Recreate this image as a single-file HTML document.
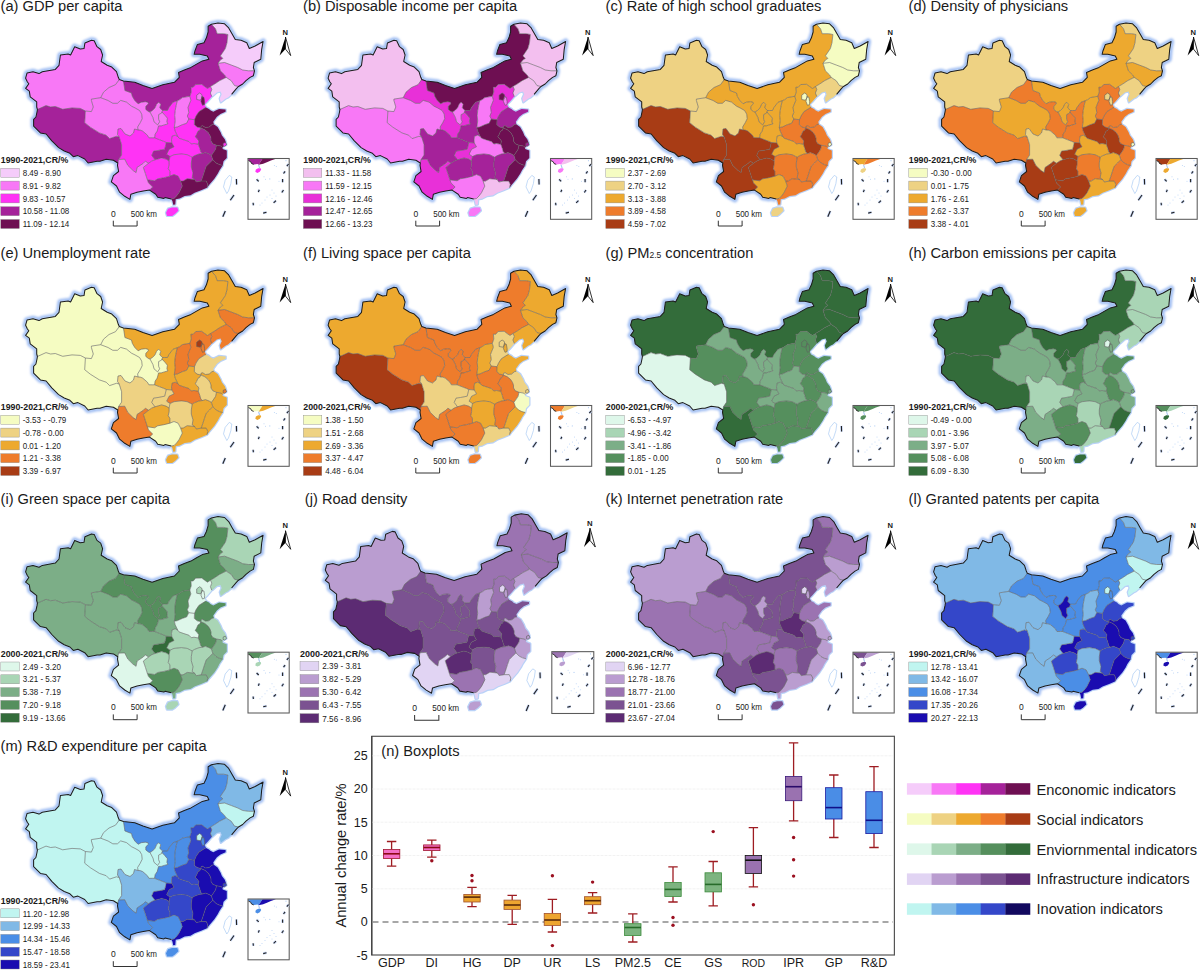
<!DOCTYPE html><html><head><meta charset="utf-8"><style>
html,body{margin:0;padding:0;background:#fff}
svg{display:block}
text{font-family:"Liberation Sans",sans-serif;fill:#1a1a1a}
.ttl{font-size:14.67px}
.lt{font-size:8.8px;font-weight:bold}
.ll{font-size:8.6px}
.sb{font-size:8.5px}
.na{font-size:7.6px;font-weight:bold;text-anchor:middle}
.glow{fill:none;stroke:#b9d2f8;stroke-width:2.4;stroke-linejoin:round}
.glow2{fill:none;stroke:#a2bff3;stroke-width:6;stroke-linejoin:round}
.int{fill:none;stroke:#5e5e5e;stroke-width:0.7;stroke-opacity:0.85}
.land{fill:none;stroke:#1c1c1c;stroke-width:1.05;stroke-linejoin:round}
.tw{fill:none;stroke:#9cc2f2;stroke-width:0.6}
.sw{stroke:#888;stroke-width:0.4}
.dash path{fill:none;stroke:#222;stroke-width:1.1}
.dashg path{fill:none;stroke:#c8d8f8;stroke-width:2.6}
.bt{font-size:12.5px}
.bx{font-size:12.5px}
.bxs{font-size:10.5px}
.byl{font-size:14.67px}
.bti{font-size:14.67px}
.rl{font-size:14.67px}
</style></head><body>
<svg width="1200" height="970" viewBox="0 0 1200 970">
<defs><filter id="gb" x="-5%" y="-5%" width="110%" height="110%"><feGaussianBlur stdDeviation="0.9"/></filter>
<path id="XJ" d="M37.4,109.5 36.7,107 36.7,101.9 30.2,96.8 29.3,91.2 25.6,88.4 28.8,83.8 27.4,82 25.6,78.2 27,73.1 33,71.7 39,73.6 42.3,71.7 55.3,69.4 59,65.3 60.4,55 68.2,54.1 70.6,55 74.7,46.7 80.3,49 84,48.6 84.9,43 91.4,40.2 94.2,40.7 97,46.7 100.7,49.5 102.6,55 101.2,61.5 107.2,65.3 111.8,67.1 116.5,71.7 118.3,77.3 119.3,79.5 115.5,84.7 109,87.5 103.5,92.2 100.7,97.7 91.4,99.1 91.4,100.5 93.3,107 91.4,111.6 85.4,111 80.3,108.4 72,107.9 62.7,109.3 55.3,106.5 50.6,107 46,105.6Z"/>
<path id="TB" d="M37.4,109.5 46,105.6 50.6,107 55.3,106.5 62.7,109.3 72,107.9 80.3,108.4 85.4,111 84.7,122.7 90.3,127.2 99.4,132.9 106.2,135.2 109.6,138.6 116.4,136.3 119.2,137 121.6,144.7 121.6,155.1 118.6,159.5 117.8,163 113.4,160.2 106.2,159.2 100,161.2 97.1,161.3 88.1,163 84.7,159 77.9,155.6 73.3,156.7 69.9,153.3 64.2,151 58.6,147.6 51.8,140.8 46.1,134 40.4,132.9 33.6,126.1 33.6,119.3 35.9,117 37,112Z"/>
<path id="QH" d="M85.4,111 91.4,111.6 93.3,107 91.4,100.5 91.4,99.1 100.7,97.7 108.1,100.5 112.8,103.3 117.4,103.3 120.7,100.4 126.5,102.1 131.5,106.2 135,107.9 139.6,110.5 141.7,114.1 142.2,118.7 140.2,122.8 137.6,127 138.1,130 134.5,129 133.5,133 130,136 125,134 121,128.5 118,129 117.5,134.5 119.2,137 116.4,136.3 109.6,138.6 106.2,135.2 99.4,132.9 90.3,127.2 84.7,122.7Z"/>
<path id="GS" d="M100.7,97.7 103.5,92.2 109,87.5 115.5,84.7 119.3,79.5 123.5,81.1 124.9,90.5 131.5,93 132.3,96.3 134.8,100.5 138.1,103.8 141.2,102.2 145.3,101.7 147.9,102.2 148.4,103.8 145.8,106.3 145.8,109.4 148.4,111.5 150,112 153,117.7 154,121.8 157.6,124.9 159.7,121.8 158.6,119.2 158.6,114.6 161.7,113 161.9,112 164.8,115.1 167.4,118.2 166.9,121.8 167.9,123.9 164.3,124.9 161.2,125.9 158.6,125.9 157.2,131.1 155.1,134.2 154.6,137.8 152.5,137.8 148.9,137.8 147.4,135.2 142.7,131.1 140.2,130.1 138.1,130 137.6,127 140.2,122.8 142.2,118.7 141.7,114.1 139.6,110.5 135,107.9 131.5,106.2 126.5,102.1 120.7,100.4 117.4,103.3 112.8,103.3 108.1,100.5Z"/>
<path id="IM" d="M123.5,81.1 134.8,82.3 143,85.6 152.1,88.5 162.8,84.8 174.4,82.3 179.3,77.3 178.5,72.4 184.3,69.9 190.9,67.4 196.6,64.1 202.3,60.9 208.9,59.2 207.3,55.9 199.8,54.3 194.1,54.3 194.9,51 197.4,44.4 204,42.7 206.4,37.8 208.1,32 208.1,26.2 211.4,24.2 215.5,28.7 217.2,33.7 223.7,33.7 227.9,34.5 227,42.7 225.4,48.5 220.4,55.9 222.9,58.4 220.4,60 218,63.3 220.4,70.8 224.6,74.9 226.2,77.4 219.6,80.7 214.7,84 210.5,86.5 207.5,88.5 204.6,86.5 201.7,84.3 195.7,84.5 193.2,87.3 190.9,87.2 191.3,92 189.8,96.3 185,97.1 182.4,97.6 179.8,99.6 177.3,100.7 173.1,102.2 169,107.4 167.5,110.5 164.4,110.5 162.5,110.5 159.7,107.9 160.7,104.3 158.6,102.2 156.6,104.3 155,107.9 152.5,110.5 150,112 148.4,111.5 145.8,109.4 145.8,106.3 148.4,103.8 147.9,102.2 145.3,101.7 141.2,102.2 138.1,103.8 134.8,100.5 132.3,96.3 131.5,93 124.9,90.5Z"/>
<path id="HLJ" d="M211.4,24.2 218,22.9 224.6,23.8 228.7,27.9 232,33.7 235.3,39.4 241.1,40.3 246.8,42.7 249.3,48.5 255.1,46 263.1,41.5 261.7,49.3 260.8,59.2 254.2,62.5 253.4,67.5 254.5,70.8 248.5,70.8 242.7,70 237.8,67.5 231.2,65 224.6,62.5 218,63.3 220.4,60 222.9,58.4 220.4,55.9 225.4,48.5 227,42.7 227.9,34.5 223.7,33.7 217.2,33.7 215.5,28.7Z"/>
<path id="JL" d="M226.2,77.4 224.6,74.9 220.4,70.8 218,63.3 224.6,62.5 231.2,65 237.8,67.5 242.7,70 248.5,70.8 254.5,70.8 253.4,75.7 250.1,77.4 246,80.7 242.7,84 238.5,86.5 234.5,85.6 231.2,80.7Z"/>
<path id="LN" d="M210.5,86.5 214.7,84 219.6,80.7 226.2,77.4 231.2,80.7 234.5,85.6 238.5,86.5 236.4,88.7 231.6,94.3 228,97.5 225.4,98.8 220.8,102.2 219.8,98.6 221.7,94.3 220.5,91.4 216.8,92.4 212.4,96.3 211.8,96.6 210.4,93 211.8,89.4Z"/>
<path id="NX" d="M150,112 152.5,110.5 155,107.9 156.6,104.3 158.6,102.2 160.7,104.3 159.7,107.9 162.5,110.5 161.9,112 161.7,113 158.6,114.6 158.6,119.2 159.7,121.8 157.6,124.9 154,121.8 153,117.7Z"/>
<path id="SN" d="M162.5,110.5 164.4,110.5 167.5,110.5 169,107.4 173.1,102.2 177.3,100.7 176.2,105.3 175.2,110.5 174.7,115.6 175.2,120.8 174.3,127.5 175.2,131.1 177.8,136.5 175.2,135.2 172.1,136.2 171.5,139.8 171.8,143 166.3,142.5 163.9,141.4 159.7,139.8 154.6,137.8 155.1,134.2 157.2,131.1 158.6,125.9 161.2,125.9 164.3,124.9 167.9,123.9 166.9,121.8 167.4,118.2 164.8,115.1 161.9,112Z"/>
<path id="SX" d="M177.3,100.7 179.8,99.6 182.4,97.6 185,97.1 189.8,96.3 190.9,100.2 188,107.4 188.8,112.5 187.3,116.1 188.8,119 186.6,123.3 182.3,124.7 177.3,127 174.3,127.5 175.2,120.8 174.7,115.6 175.2,110.5 176.2,105.3Z"/>
<path id="HE" d="M189.8,96.3 191.3,92 190.9,87.2 193.2,87.3 195.7,84.5 201.7,84.3 204.6,86.5 207.5,88.5 210.5,86.5 211.8,89.4 210.4,93 211.8,96.6 207.5,101.6 204.6,104.5 206.1,107.4 204.6,108.1 198.9,111.7 196,116.1 194.5,119.7 188.8,119 187.3,116.1 188.8,112.5 188,107.4 190.9,100.2Z"/>
<path id="SD" d="M206.1,107.4 209,108.9 210.4,110.3 213.3,111.7 216.2,110.3 219.1,108.9 225.6,109.6 225.6,111.7 220.5,113.9 216.9,116.8 213.3,121.8 213.8,124.2 211.9,124.7 209.1,127.1 205.4,127.5 202.6,125.7 201.2,126.1 200.8,128 197.1,127.1 194.3,124.7 194.5,119.7 196,116.1 198.9,111.7 204.6,108.1Z"/>
<path id="HA" d="M188.8,119 186.6,123.3 182.3,124.7 177.3,127 174.3,127.5 175.2,131.1 177.8,136.5 179,138.2 183.9,139.9 188.9,141.5 191.3,144 194,143.5 198.3,144.3 198.9,141 197.5,139.1 195.2,136.8 196.6,134.5 198,131.2 199.8,130.3 200.8,128 197.1,127.1 194.3,124.7 194.5,119.7Z"/>
<path id="JS" d="M200.8,128 201.2,126.1 202.6,125.7 205.4,127.5 209.1,127.1 211.9,124.7 213.8,124.2 217.6,126.9 220.5,132 221.9,135.6 224.8,139.2 226,142.5 226.3,145 223.5,146.5 222.5,147.5 221.2,146.1 216.5,145.3 212.8,143.8 211,141 211,138.2 210,135.4 208.2,132.6 204.9,129.8Z"/>
<path id="AH" d="M200.8,128 204.9,129.8 208.2,132.6 210,135.4 211,138.2 211,141 212.8,143.8 216.5,145.3 215.6,149.3 213.8,152.1 211.4,155.4 209.1,154 205.4,152.6 202.6,153.5 200.8,152.1 199.8,148.4 198.3,144.3 198.9,141 197.5,139.1 195.2,136.8 196.6,134.5 198,131.2 199.8,130.3Z"/>
<path id="ZJ" d="M216.5,145.3 221.2,146.1 222.5,147.5 222.7,149 226.8,150.6 226.8,158 223.5,161.3 222.7,165.5 219.4,164.6 216.1,163 212.8,159.7 211.4,155.4 213.8,152.1 215.6,149.3Z"/>
<path id="HB" d="M177.8,136.5 179,138.2 183.9,139.9 188.9,141.5 191.3,144 194,143.5 198.3,144.3 199.8,148.4 200.8,152.1 202.6,153.5 198.9,154 194.3,155.8 192.2,157.2 190.5,156.4 187.2,154.7 181.4,153.9 174,154.7 170,156.5 166.6,154.2 169.1,149.2 174,146.8 171.8,143 171.5,139.8 172.1,136.2 175.2,135.2Z"/>
<path id="CQ" d="M171.8,143 174,146.8 169.1,149.2 166.6,154.2 170,156.5 169.7,158 169.1,161 166,159.1 161.6,157.9 155,159.8 151.7,155.4 153.6,151.1 158,150.5 164.7,149.2 166.3,142.5Z"/>
<path id="SC" d="M138.1,130 134.5,129 133.5,133 130,136 125,134 121,128.5 118,129 117.5,134.5 119.2,137 121.6,144.7 121.6,155.1 118.6,159.5 124.7,159.2 127.8,165.4 133,170.5 136.1,172.6 137.1,167.4 143.3,163.3 145.4,161.2 148.5,163.3 151.5,161.2 153,160.5 155,159.8 151.7,155.4 153.6,151.1 158,150.5 164.7,149.2 166.3,142.5 163.9,141.4 159.7,139.8 154.6,137.8 152.5,137.8 148.9,137.8 147.4,135.2 142.7,131.1 140.2,130.1Z"/>
<path id="HN" d="M170,156.5 174,154.7 181.4,153.9 187.2,154.7 190.5,156.4 192.2,157.2 191.3,163 191.3,167.1 193,172.9 192.2,177.8 194.6,179.5 187.2,178.7 183.1,181.1 180.6,181.1 178.1,176.2 174,174.5 169.9,176.2 169.9,171.2 168.2,168.8 169.1,164.6 169.1,161 169.7,158Z"/>
<path id="JX" d="M192.2,157.2 194.3,155.8 198.9,154 202.6,153.5 205.4,152.6 209.1,154 211.4,155.4 212.8,159.7 209.5,163 206.2,166.3 204.5,171.2 202.9,176.2 201.2,181.1 196.3,182 194.6,179.5 192.2,177.8 193,172.9 191.3,167.1 191.3,163Z"/>
<path id="FJ" d="M212.8,159.7 216.1,163 219.4,164.6 222.7,165.5 219.4,170.4 217.7,173.7 214.4,178.7 209.5,184.4 207,187.7 207.8,184.4 206.2,181.1 201.2,181.1 202.9,176.2 204.5,171.2 206.2,166.3 209.5,163Z"/>
<path id="GD" d="M201.2,181.1 206.2,181.1 207.8,184.4 207,187.7 201.2,190.2 194.6,192.7 190.5,195.2 184.7,196 179.8,198.5 175.7,199.3 175.3,204.5 173.2,204.8 172.4,200.9 171.2,199 174,198.5 176.5,196 179,192.7 182.3,186.1 180.6,181.1 183.1,181.1 187.2,178.7 194.6,179.5 196.3,182Z"/>
<path id="GX" d="M180.6,181.1 182.3,186.1 179,192.7 176.5,196 174,198.5 171.2,199 165,197.6 163.9,198.4 157.7,197.3 155.7,194.2 149.5,190.1 152.6,187 148.5,182.9 147.4,179.8 154.6,180.8 157.7,178.8 163.9,177.7 169.9,176.2 174,174.5 178.1,176.2Z"/>
<path id="GZ" d="M155,159.8 161.6,157.9 166,159.1 169.1,161 169.1,164.6 168.2,168.8 169.9,171.2 169.9,176.2 163.9,177.7 157.7,178.8 154.6,180.8 147.4,179.8 145.4,173.6 143.3,167.4 148.5,163.3 151.5,161.2 153,160.5Z"/>
<path id="YN" d="M149.5,190.1 143.3,191.1 137.1,192.2 130.9,194.2 129.9,199.4 124.7,196.3 119.6,192.2 116.5,186 111.3,181.9 113.4,175.7 118.6,171.5 117.5,165.4 117.8,163 118.6,159.5 124.7,159.2 127.8,165.4 133,170.5 136.1,172.6 137.1,167.4 143.3,163.3 145.4,161.2 148.5,163.3 143.3,167.4 145.4,173.6 147.4,179.8 148.5,182.9 152.6,187Z"/>
<path id="BJ" d="M196.7,95.2 199.6,93 201.7,94.4 202.5,97.3 200.3,100.2 196.7,99.5Z"/>
<path id="TJ" d="M201.7,96.6 203.9,97.3 204.6,101.6 204.6,104.5 202.5,105.3 201,101.6Z"/>
<path id="SH" d="M223.3,143.2 225.6,142.4 226.6,144.8 224.6,146.3 223,145.6Z"/>
<path id="HI" d="M166,212.8 168,208.7 172,207.5 177.3,207.6 178.4,210.7 175,214 172.2,215.9 167,215.9Z"/>
<path id="outline" d="M37.4,109.5 36.7,107 36.7,101.9 30.2,96.8 29.3,91.2 25.6,88.4 28.8,83.8 27.4,82 25.6,78.2 27,73.1 33,71.7 39,73.6 42.3,71.7 55.3,69.4 59,65.3 60.4,55 68.2,54.1 70.6,55 74.7,46.7 80.3,49 84,48.6 84.9,43 91.4,40.2 94.2,40.7 97,46.7 100.7,49.5 102.6,55 101.2,61.5 107.2,65.3 111.8,67.1 116.5,71.7 118.3,77.3 119.3,79.5 123.5,81.1 134.8,82.3 143,85.6 152.1,88.5 162.8,84.8 174.4,82.3 179.3,77.3 178.5,72.4 184.3,69.9 190.9,67.4 196.6,64.1 202.3,60.9 208.9,59.2 207.3,55.9 199.8,54.3 194.1,54.3 194.9,51 197.4,44.4 204,42.7 206.4,37.8 208.1,32 208.1,26.2 211.4,24.2 218,22.9 224.6,23.8 228.7,27.9 232,33.7 235.3,39.4 241.1,40.3 246.8,42.7 249.3,48.5 255.1,46 263.1,41.5 261.7,49.3 260.8,59.2 254.2,62.5 253.4,67.5 254.5,70.8 253.4,75.7 250.1,77.4 246,80.7 242.7,84 238.5,86.5 236.4,88.7 231.6,94.3 228,97.5 225.4,98.8 220.8,102.2 219.8,98.6 221.7,94.3 220.5,91.4 216.8,92.4 212.4,96.3 211.8,96.6 207.5,101.6 204.6,104.5 206.1,107.4 209,108.9 210.4,110.3 213.3,111.7 216.2,110.3 219.1,108.9 225.6,109.6 225.6,111.7 220.5,113.9 216.9,116.8 213.3,121.8 213.8,124.2 217.6,126.9 220.5,132 221.9,135.6 224.8,139.2 226,142.5 226.3,145 223.5,146.5 222.5,147.5 222.7,149 226.8,150.6 226.8,158 223.5,161.3 222.7,165.5 219.4,170.4 217.7,173.7 214.4,178.7 209.5,184.4 207,187.7 201.2,190.2 194.6,192.7 190.5,195.2 184.7,196 179.8,198.5 175.7,199.3 175.3,204.5 173.2,204.8 172.4,200.9 171.2,199 165,197.6 163.9,198.4 157.7,197.3 155.7,194.2 149.5,190.1 143.3,191.1 137.1,192.2 130.9,194.2 129.9,199.4 124.7,196.3 119.6,192.2 116.5,186 111.3,181.9 113.4,175.7 118.6,171.5 117.5,165.4 117.8,163 113.4,160.2 106.2,159.2 100,161.2 97.1,161.3 88.1,163 84.7,159 77.9,155.6 73.3,156.7 69.9,153.3 64.2,151 58.6,147.6 51.8,140.8 46.1,134 40.4,132.9 33.6,126.1 33.6,119.3 35.9,117 37,112Z"/>
<path id="land" d="M171.2,199 165,197.6 163.9,198.4 157.7,197.3 155.7,194.2 149.5,190.1 143.3,191.1 137.1,192.2 130.9,194.2 129.9,199.4 124.7,196.3 119.6,192.2 116.5,186 111.3,181.9 113.4,175.7 118.6,171.5 117.5,165.4 117.8,163 113.4,160.2 106.2,159.2 100,161.2 97.1,161.3 88.1,163 84.7,159 77.9,155.6 73.3,156.7 69.9,153.3 64.2,151 58.6,147.6 51.8,140.8 46.1,134 40.4,132.9 33.6,126.1 33.6,119.3 35.9,117 37,112 37.4,109.5 36.7,107 36.7,101.9 30.2,96.8 29.3,91.2 25.6,88.4 28.8,83.8 27.4,82 25.6,78.2 27,73.1 33,71.7 39,73.6 42.3,71.7 55.3,69.4 59,65.3 60.4,55 68.2,54.1 70.6,55 74.7,46.7 80.3,49 84,48.6 84.9,43 91.4,40.2 94.2,40.7 97,46.7 100.7,49.5 102.6,55 101.2,61.5 107.2,65.3 111.8,67.1 116.5,71.7 118.3,77.3 119.3,79.5 123.5,81.1 134.8,82.3 143,85.6 152.1,88.5 162.8,84.8 174.4,82.3 179.3,77.3 178.5,72.4 184.3,69.9 190.9,67.4 196.6,64.1 202.3,60.9 208.9,59.2 207.3,55.9 199.8,54.3 194.1,54.3 194.9,51 197.4,44.4 204,42.7 206.4,37.8 208.1,32 208.1,26.2 211.4,24.2 218,22.9 224.6,23.8 228.7,27.9 232,33.7 235.3,39.4 241.1,40.3 246.8,42.7 249.3,48.5 255.1,46 263.1,41.5 261.7,49.3 260.8,59.2 254.2,62.5 253.4,67.5 254.5,70.8 253.4,75.7 250.1,77.4 246,80.7 242.7,84 238.5,86.5 236.4,88.7 231.6,94.3"/>
<path id="coast" d="M231.6,94.3 228,97.5 225.4,98.8 220.8,102.2 219.8,98.6 221.7,94.3 220.5,91.4 216.8,92.4 212.4,96.3 211.8,96.6 207.5,101.6 204.6,104.5 206.1,107.4 209,108.9 210.4,110.3 213.3,111.7 216.2,110.3 219.1,108.9 225.6,109.6 225.6,111.7 220.5,113.9 216.9,116.8 213.3,121.8 213.8,124.2 217.6,126.9 220.5,132 221.9,135.6 224.8,139.2 226,142.5 226.3,145 223.5,146.5 222.5,147.5 222.7,149 226.8,150.6 226.8,158 223.5,161.3 222.7,165.5 219.4,170.4 217.7,173.7 214.4,178.7 209.5,184.4 207,187.7 201.2,190.2 194.6,192.7 190.5,195.2 184.7,196 179.8,198.5 175.7,199.3 175.3,204.5 173.2,204.8 172.4,200.9 171.2,199"/>
<path id="ints" d="M37.4,109.5 46,105.6 50.6,107 55.3,106.5 62.7,109.3 72,107.9 80.3,108.4 85.4,111M85.4,111 91.4,111.6 93.3,107 91.4,100.5 91.4,99.1 100.7,97.7M100.7,97.7 103.5,92.2 109,87.5 115.5,84.7 119.3,79.5M85.4,111 84.7,122.7 90.3,127.2 99.4,132.9 106.2,135.2 109.6,138.6 116.4,136.3 119.2,137M119.2,137 121.6,144.7 121.6,155.1 118.6,159.5M118.6,159.5 117.8,163M100.7,97.7 108.1,100.5 112.8,103.3 117.4,103.3 120.7,100.4 126.5,102.1 131.5,106.2 135,107.9 139.6,110.5 141.7,114.1 142.2,118.7 140.2,122.8 137.6,127 138.1,130M138.1,130 134.5,129 133.5,133 130,136 125,134 121,128.5 118,129 117.5,134.5 119.2,137M123.5,81.1 124.9,90.5 131.5,93 132.3,96.3 134.8,100.5 138.1,103.8 141.2,102.2 145.3,101.7 147.9,102.2 148.4,103.8 145.8,106.3 145.8,109.4 148.4,111.5 150,112M150,112 152.5,110.5 155,107.9 156.6,104.3 158.6,102.2 160.7,104.3 159.7,107.9 162.5,110.5M162.5,110.5 161.9,112M150,112 153,117.7 154,121.8 157.6,124.9 159.7,121.8 158.6,119.2 158.6,114.6 161.7,113 161.9,112M161.9,112 164.8,115.1 167.4,118.2 166.9,121.8 167.9,123.9 164.3,124.9 161.2,125.9 158.6,125.9 157.2,131.1 155.1,134.2 154.6,137.8M138.1,130 140.2,130.1 142.7,131.1 147.4,135.2 148.9,137.8 152.5,137.8 154.6,137.8M162.5,110.5 164.4,110.5 167.5,110.5 169,107.4 173.1,102.2 177.3,100.7M177.3,100.7 179.8,99.6 182.4,97.6 185,97.1 189.8,96.3M189.8,96.3 191.3,92 190.9,87.2 193.2,87.3 195.7,84.5 201.7,84.3 204.6,86.5 207.5,88.5 210.5,86.5M210.5,86.5 211.8,89.4 210.4,93 211.8,96.6M210.5,86.5 214.7,84 219.6,80.7 226.2,77.4M226.2,77.4 231.2,80.7 234.5,85.6 238.5,86.5M226.2,77.4 224.6,74.9 220.4,70.8 218,63.3M218,63.3 224.6,62.5 231.2,65 237.8,67.5 242.7,70 248.5,70.8 254.5,70.8M211.4,24.2 215.5,28.7 217.2,33.7 223.7,33.7 227.9,34.5 227,42.7 225.4,48.5 220.4,55.9 222.9,58.4 220.4,60 218,63.3M177.3,100.7 176.2,105.3 175.2,110.5 174.7,115.6 175.2,120.8 174.3,127.5M189.8,96.3 190.9,100.2 188,107.4 188.8,112.5 187.3,116.1 188.8,119M188.8,119 186.6,123.3 182.3,124.7 177.3,127 174.3,127.5M174.3,127.5 175.2,131.1 177.8,136.5M206.1,107.4 204.6,108.1 198.9,111.7 196,116.1 194.5,119.7M188.8,119 194.5,119.7M194.5,119.7 194.3,124.7 197.1,127.1 200.8,128M200.8,128 201.2,126.1 202.6,125.7 205.4,127.5 209.1,127.1 211.9,124.7 213.8,124.2M200.8,128 199.8,130.3 198,131.2 196.6,134.5 195.2,136.8 197.5,139.1 198.9,141 198.3,144.3M200.8,128 204.9,129.8 208.2,132.6 210,135.4 211,138.2 211,141 212.8,143.8 216.5,145.3M216.5,145.3 221.2,146.1 222.5,147.5M216.5,145.3 215.6,149.3 213.8,152.1 211.4,155.4M211.4,155.4 209.1,154 205.4,152.6 202.6,153.5M198.3,144.3 199.8,148.4 200.8,152.1 202.6,153.5M177.8,136.5 179,138.2 183.9,139.9 188.9,141.5 191.3,144 194,143.5 198.3,144.3M177.8,136.5 175.2,135.2 172.1,136.2 171.5,139.8 171.8,143M171.8,143 166.3,142.5M154.6,137.8 159.7,139.8 163.9,141.4 166.3,142.5M166.3,142.5 164.7,149.2 158,150.5 153.6,151.1 151.7,155.4 155,159.8M155,159.8 161.6,157.9 166,159.1 169.1,161M169.1,161 169.7,158 170,156.5M171.8,143 174,146.8 169.1,149.2 166.6,154.2 170,156.5M170,156.5 174,154.7 181.4,153.9 187.2,154.7 190.5,156.4 192.2,157.2M192.2,157.2 194.3,155.8 198.9,154 202.6,153.5M192.2,157.2 191.3,163 191.3,167.1 193,172.9 192.2,177.8 194.6,179.5M194.6,179.5 187.2,178.7 183.1,181.1 180.6,181.1M180.6,181.1 178.1,176.2 174,174.5 169.9,176.2M169.9,176.2 169.9,171.2 168.2,168.8 169.1,164.6 169.1,161M169.9,176.2 163.9,177.7 157.7,178.8 154.6,180.8 147.4,179.8M147.4,179.8 145.4,173.6 143.3,167.4 148.5,163.3M148.5,163.3 151.5,161.2 153,160.5 155,159.8M118.6,159.5 124.7,159.2 127.8,165.4 133,170.5 136.1,172.6 137.1,167.4 143.3,163.3 145.4,161.2 148.5,163.3M147.4,179.8 148.5,182.9 152.6,187 149.5,190.1M180.6,181.1 182.3,186.1 179,192.7 176.5,196 174,198.5 171.2,199M211.4,155.4 212.8,159.7M212.8,159.7 209.5,163 206.2,166.3 204.5,171.2 202.9,176.2 201.2,181.1M201.2,181.1 196.3,182 194.6,179.5M212.8,159.7 216.1,163 219.4,164.6 222.7,165.5M201.2,181.1 206.2,181.1 207.8,184.4 207,187.7"/>
<path id="ints2" d="M196.7,95.2 199.6,93 201.7,94.4 202.5,97.3 200.3,100.2 196.7,99.5ZM201.7,96.6 203.9,97.3 204.6,101.6 204.6,104.5 202.5,105.3 201,101.6ZM223.3,143.2 225.6,142.4 226.6,144.8 224.6,146.3 223,145.6Z"/>
<path id="tw" d="M229.3,175.4 231.8,177 230.9,183.6 228.5,191 226.8,193.5 223.5,186.9 225.2,180.3Z"/>
<path id="ins_gx" d="M248.3,158.7H262.5L258.6,164.8L257.5,164.1L253.7,164.4L251.5,163.5L250.8,161.8L248.3,160.5Z"/>
<path id="ins_gd" d="M262.5,158.7H276L270.9,160.6L267.5,162.1L263.2,163.7L258.6,164.8Z"/>
<path id="ins_hi" d="M255.3,171.8L255.9,169.4L258.2,168.3L260.6,168.2L261.2,169.6L259.8,171.8L257.4,172.9Z"/><g id="deco">
<path d="M279.6,55.6 L285.5,37 L285.5,49.1Z" fill="#000"/>
<path d="M285.5,37 L290.7,55.6 L285.5,49.1Z" fill="#fff" stroke="#000" stroke-width="0.8" stroke-linejoin="miter"/>
<text x="285.3" y="34.8" class="na">N</text>
<text x="111" y="216.7" class="sb">0</text>
<text x="130.7" y="216.7" class="sb" textLength="26.3" lengthAdjust="spacingAndGlyphs">500 km</text>
<path d="M113.3,220.7V226H137.1V220.7" fill="none" stroke="#333" stroke-width="1"/>
<g class="dashg"><path d="M236.4,178.9L236.6,184.6M230.3,200.3L234,195M222.8,216.8L225.3,211"/></g><g class="dash"><path d="M236.4,178.9L236.6,184.6M230.3,200.3L234,195M222.8,216.8L225.3,211"/></g>
</g>
<g id="deco2">
<path d="M248.3,160.5L250.8,161.8L251.5,163.5L253.7,164.4" fill="none" stroke="#222" stroke-width="0.9"/>
<path d="M258.6,164.8L259.6,168.2" stroke="#a9c6f0" stroke-width="1.1"/>
<g fill="#b5d0f5"><circle cx="274.4" cy="165.6" r="0.5"/><circle cx="276.3" cy="166.4" r="0.5"/><circle cx="264" cy="176.7" r="0.5"/><circle cx="265.5" cy="179.3" r="0.5"/><circle cx="269.8" cy="178.9" r="0.6"/><circle cx="279" cy="181.3" r="0.5"/><circle cx="286" cy="160.7" r="0.6"/><circle cx="272" cy="190" r="0.5"/><circle cx="274" cy="193" r="0.5"/><circle cx="270" cy="195" r="0.5"/><circle cx="276" cy="196" r="0.5"/><circle cx="267" cy="197" r="0.5"/><circle cx="272" cy="198.5" r="0.5"/><circle cx="265" cy="200" r="0.5"/><circle cx="262" cy="203" r="0.5"/><circle cx="260" cy="205" r="0.5"/></g>
<rect x="248" y="158.5" width="41.2" height="60.8" fill="none" stroke="#5a5a5a" stroke-width="1.05"/>
<g class="dashg"><path d="M286.8,166.1L288.6,164.2M283.5,173.5L285.1,171.4M282.6,178.9L282.6,182.2M281.8,192.5L283.5,190M273.6,202.8L276,200.7M263.2,213.1L266.5,212.3M253.1,202.8L253.4,205.3M258.3,192.1L259.3,189.8M256.6,179.3L258.7,181.3"/></g><g class="dash"><path d="M286.8,166.1L288.6,164.2M283.5,173.5L285.1,171.4M282.6,178.9L282.6,182.2M281.8,192.5L283.5,190M273.6,202.8L276,200.7M263.2,213.1L266.5,212.3M253.1,202.8L253.4,205.3M258.3,192.1L259.3,189.8M256.6,179.3L258.7,181.3"/></g>
</g></defs>
<g transform="translate(0,0)">
<text x="0.5" y="10.75" class="ttl">(a) GDP per capita</text>
<use href="#land" class="glow2" filter="url(#gb)"/>
<use href="#outline" class="glow"/>
<use href="#HI" class="glow"/>
<use href="#XJ" fill="#F878F6"/>
<use href="#TB" fill="#A5229A"/>
<use href="#QH" fill="#F878F6"/>
<use href="#GS" fill="#F878F6"/>
<use href="#IM" fill="#A5229A"/>
<use href="#HLJ" fill="#F5CCFA"/>
<use href="#JL" fill="#F878F6"/>
<use href="#LN" fill="#F5CCFA"/>
<use href="#NX" fill="#F878F6"/>
<use href="#SN" fill="#FF33F5"/>
<use href="#SX" fill="#F878F6"/>
<use href="#HE" fill="#FF33F5"/>
<use href="#SD" fill="#6E0F52"/>
<use href="#HA" fill="#FF33F5"/>
<use href="#JS" fill="#6E0F52"/>
<use href="#AH" fill="#A5229A"/>
<use href="#ZJ" fill="#6E0F52"/>
<use href="#HB" fill="#FF33F5"/>
<use href="#CQ" fill="#A5229A"/>
<use href="#SC" fill="#FF33F5"/>
<use href="#HN" fill="#FF33F5"/>
<use href="#JX" fill="#A5229A"/>
<use href="#FJ" fill="#6E0F52"/>
<use href="#GD" fill="#6E0F52"/>
<use href="#GX" fill="#A5229A"/>
<use href="#GZ" fill="#FF33F5"/>
<use href="#YN" fill="#F878F6"/>
<use href="#BJ" fill="#F878F6"/>
<use href="#TJ" fill="#6E0F52"/>
<use href="#SH" fill="#FF33F5"/>
<use href="#HI" fill="#FF33F5"/>
<use href="#ints" class="int"/><use href="#ints2" class="int"/>
<use href="#land" class="land"/>
<use href="#tw" class="tw"/>
<use href="#deco"/>
<text x="0.8" y="163.3" class="lt">1990-2021,CR/%</text>
<rect x="0.8" y="168.3" width="18.5" height="9" fill="#F5CCFA" class="sw"/>
<text x="22.7" y="176.0" class="ll" textLength="38.2" lengthAdjust="spacingAndGlyphs">8.49 - 8.90</text>
<rect x="0.8" y="181.1" width="18.5" height="9" fill="#F878F6" class="sw"/>
<text x="22.7" y="188.8" class="ll" textLength="38.2" lengthAdjust="spacingAndGlyphs">8.91 - 9.82</text>
<rect x="0.8" y="193.9" width="18.5" height="9" fill="#FF33F5" class="sw"/>
<text x="22.7" y="201.6" class="ll" textLength="42.7" lengthAdjust="spacingAndGlyphs">9.83 - 10.57</text>
<rect x="0.8" y="206.7" width="18.5" height="9" fill="#A5229A" class="sw"/>
<text x="22.7" y="214.4" class="ll" textLength="46.6" lengthAdjust="spacingAndGlyphs">10.58 - 11.08</text>
<rect x="0.8" y="219.5" width="18.5" height="9" fill="#6E0F52" class="sw"/>
<text x="22.7" y="227.2" class="ll" textLength="46.6" lengthAdjust="spacingAndGlyphs">11.09 - 12.14</text>
<use href="#ins_gx" fill="#A5229A"/>
<use href="#ins_gd" fill="#6E0F52"/>
<use href="#ins_hi" fill="#FF33F5"/>
<use href="#deco2"/>
</g>
<g transform="translate(302.5,0)">
<text x="0.5" y="10.75" class="ttl">(b) Disposable income per capita</text>
<use href="#land" class="glow2" filter="url(#gb)"/>
<use href="#outline" class="glow"/>
<use href="#HI" class="glow"/>
<use href="#XJ" fill="#F3BFEF"/>
<use href="#TB" fill="#F878F6"/>
<use href="#QH" fill="#F878F6"/>
<use href="#GS" fill="#E830D8"/>
<use href="#IM" fill="#6E0F52"/>
<use href="#HLJ" fill="#F3BFEF"/>
<use href="#JL" fill="#F3BFEF"/>
<use href="#LN" fill="#F3BFEF"/>
<use href="#NX" fill="#F878F6"/>
<use href="#SN" fill="#A5229A"/>
<use href="#SX" fill="#F878F6"/>
<use href="#HE" fill="#E830D8"/>
<use href="#SD" fill="#A5229A"/>
<use href="#HA" fill="#6E0F52"/>
<use href="#JS" fill="#6E0F52"/>
<use href="#AH" fill="#6E0F52"/>
<use href="#ZJ" fill="#6E0F52"/>
<use href="#HB" fill="#F878F6"/>
<use href="#CQ" fill="#E830D8"/>
<use href="#SC" fill="#A5229A"/>
<use href="#HN" fill="#A5229A"/>
<use href="#JX" fill="#A5229A"/>
<use href="#FJ" fill="#6E0F52"/>
<use href="#GD" fill="#F3BFEF"/>
<use href="#GX" fill="#F878F6"/>
<use href="#GZ" fill="#A5229A"/>
<use href="#YN" fill="#E830D8"/>
<use href="#BJ" fill="#6E0F52"/>
<use href="#TJ" fill="#F878F6"/>
<use href="#SH" fill="#A5229A"/>
<use href="#HI" fill="#F878F6"/>
<use href="#ints" class="int"/><use href="#ints2" class="int"/>
<use href="#land" class="land"/>
<use href="#tw" class="tw"/>
<use href="#deco"/>
<text x="0.8" y="163.3" class="lt">1900-2021,CR/%</text>
<rect x="0.8" y="168.3" width="18.5" height="9" fill="#F3BFEF" class="sw"/>
<text x="22.7" y="176.0" class="ll" textLength="46.0" lengthAdjust="spacingAndGlyphs">11.33 - 11.58</text>
<rect x="0.8" y="181.1" width="18.5" height="9" fill="#F878F6" class="sw"/>
<text x="22.7" y="188.8" class="ll" textLength="46.6" lengthAdjust="spacingAndGlyphs">11.59 - 12.15</text>
<rect x="0.8" y="193.9" width="18.5" height="9" fill="#E830D8" class="sw"/>
<text x="22.7" y="201.6" class="ll" textLength="47.2" lengthAdjust="spacingAndGlyphs">12.16 - 12.46</text>
<rect x="0.8" y="206.7" width="18.5" height="9" fill="#A5229A" class="sw"/>
<text x="22.7" y="214.4" class="ll" textLength="47.2" lengthAdjust="spacingAndGlyphs">12.47 - 12.65</text>
<rect x="0.8" y="219.5" width="18.5" height="9" fill="#6E0F52" class="sw"/>
<text x="22.7" y="227.2" class="ll" textLength="47.2" lengthAdjust="spacingAndGlyphs">12.66 - 13.23</text>
<use href="#ins_gx" fill="#F878F6"/>
<use href="#ins_gd" fill="#F3BFEF"/>
<use href="#ins_hi" fill="#F878F6"/>
<use href="#deco2"/>
</g>
<g transform="translate(605,0)">
<text x="0.5" y="10.75" class="ttl">(c) Rate of high school graduates</text>
<use href="#land" class="glow2" filter="url(#gb)"/>
<use href="#outline" class="glow"/>
<use href="#HI" class="glow"/>
<use href="#XJ" fill="#EED283"/>
<use href="#TB" fill="#A83C15"/>
<use href="#QH" fill="#EED283"/>
<use href="#GS" fill="#EDA92F"/>
<use href="#IM" fill="#EDA92F"/>
<use href="#HLJ" fill="#F5FCC2"/>
<use href="#JL" fill="#F5FCC2"/>
<use href="#LN" fill="#EED283"/>
<use href="#NX" fill="#EDA92F"/>
<use href="#SN" fill="#EDA92F"/>
<use href="#SX" fill="#EDA92F"/>
<use href="#HE" fill="#EDA92F"/>
<use href="#SD" fill="#EE7C2C"/>
<use href="#HA" fill="#EE7C2C"/>
<use href="#JS" fill="#EE7C2C"/>
<use href="#AH" fill="#A83C15"/>
<use href="#ZJ" fill="#EE7C2C"/>
<use href="#HB" fill="#EDA92F"/>
<use href="#CQ" fill="#A83C15"/>
<use href="#SC" fill="#A83C15"/>
<use href="#HN" fill="#EE7C2C"/>
<use href="#JX" fill="#EE7C2C"/>
<use href="#FJ" fill="#EE7C2C"/>
<use href="#GD" fill="#EE7C2C"/>
<use href="#GX" fill="#EDA92F"/>
<use href="#GZ" fill="#A83C15"/>
<use href="#YN" fill="#A83C15"/>
<use href="#BJ" fill="#F5FCC2"/>
<use href="#TJ" fill="#F5FCC2"/>
<use href="#SH" fill="#F5FCC2"/>
<use href="#HI" fill="#EED283"/>
<use href="#ints" class="int"/><use href="#ints2" class="int"/>
<use href="#land" class="land"/>
<use href="#tw" class="tw"/>
<use href="#deco"/>
<text x="0.8" y="163.3" class="lt">1990-2021,CR/%</text>
<rect x="0.8" y="168.3" width="18.5" height="9" fill="#F5FCC2" class="sw"/>
<text x="22.7" y="176.0" class="ll" textLength="38.2" lengthAdjust="spacingAndGlyphs">2.37 - 2.69</text>
<rect x="0.8" y="181.1" width="18.5" height="9" fill="#EED283" class="sw"/>
<text x="22.7" y="188.8" class="ll" textLength="38.2" lengthAdjust="spacingAndGlyphs">2.70 - 3.12</text>
<rect x="0.8" y="193.9" width="18.5" height="9" fill="#EDA92F" class="sw"/>
<text x="22.7" y="201.6" class="ll" textLength="38.2" lengthAdjust="spacingAndGlyphs">3.13 - 3.88</text>
<rect x="0.8" y="206.7" width="18.5" height="9" fill="#EE7C2C" class="sw"/>
<text x="22.7" y="214.4" class="ll" textLength="38.2" lengthAdjust="spacingAndGlyphs">3.89 - 4.58</text>
<rect x="0.8" y="219.5" width="18.5" height="9" fill="#A83C15" class="sw"/>
<text x="22.7" y="227.2" class="ll" textLength="38.2" lengthAdjust="spacingAndGlyphs">4.59 - 7.02</text>
<use href="#ins_gx" fill="#EDA92F"/>
<use href="#ins_gd" fill="#EE7C2C"/>
<use href="#ins_hi" fill="#EED283"/>
<use href="#deco2"/>
</g>
<g transform="translate(908,0)">
<text x="0.5" y="10.75" class="ttl">(d) Density of physicians</text>
<use href="#land" class="glow2" filter="url(#gb)"/>
<use href="#outline" class="glow"/>
<use href="#HI" class="glow"/>
<use href="#XJ" fill="#EED283"/>
<use href="#TB" fill="#EE7C2C"/>
<use href="#QH" fill="#EDA92F"/>
<use href="#GS" fill="#EE7C2C"/>
<use href="#IM" fill="#EDA92F"/>
<use href="#HLJ" fill="#EED283"/>
<use href="#JL" fill="#EDA92F"/>
<use href="#LN" fill="#EED283"/>
<use href="#NX" fill="#EDA92F"/>
<use href="#SN" fill="#EE7C2C"/>
<use href="#SX" fill="#EDA92F"/>
<use href="#HE" fill="#EE7C2C"/>
<use href="#SD" fill="#EE7C2C"/>
<use href="#HA" fill="#A83C15"/>
<use href="#JS" fill="#EE7C2C"/>
<use href="#AH" fill="#A83C15"/>
<use href="#ZJ" fill="#EE7C2C"/>
<use href="#HB" fill="#EDA92F"/>
<use href="#CQ" fill="#A83C15"/>
<use href="#SC" fill="#EED283"/>
<use href="#HN" fill="#EE7C2C"/>
<use href="#JX" fill="#EDA92F"/>
<use href="#FJ" fill="#EE7C2C"/>
<use href="#GD" fill="#EDA92F"/>
<use href="#GX" fill="#A83C15"/>
<use href="#GZ" fill="#A83C15"/>
<use href="#YN" fill="#A83C15"/>
<use href="#BJ" fill="#EED283"/>
<use href="#TJ" fill="#EED283"/>
<use href="#SH" fill="#F5FCC2"/>
<use href="#HI" fill="#EDA92F"/>
<use href="#ints" class="int"/><use href="#ints2" class="int"/>
<use href="#land" class="land"/>
<use href="#tw" class="tw"/>
<use href="#deco"/>
<text x="0.8" y="163.3" class="lt">1990-2021,CR/%</text>
<rect x="0.8" y="168.3" width="18.5" height="9" fill="#F5FCC2" class="sw"/>
<text x="22.7" y="176.0" class="ll" textLength="40.9" lengthAdjust="spacingAndGlyphs">-0.30 - 0.00</text>
<rect x="0.8" y="181.1" width="18.5" height="9" fill="#EED283" class="sw"/>
<text x="22.7" y="188.8" class="ll" textLength="38.2" lengthAdjust="spacingAndGlyphs">0.01 - 1.75</text>
<rect x="0.8" y="193.9" width="18.5" height="9" fill="#EDA92F" class="sw"/>
<text x="22.7" y="201.6" class="ll" textLength="38.2" lengthAdjust="spacingAndGlyphs">1.76 - 2.61</text>
<rect x="0.8" y="206.7" width="18.5" height="9" fill="#EE7C2C" class="sw"/>
<text x="22.7" y="214.4" class="ll" textLength="38.2" lengthAdjust="spacingAndGlyphs">2.62 - 3.37</text>
<rect x="0.8" y="219.5" width="18.5" height="9" fill="#A83C15" class="sw"/>
<text x="22.7" y="227.2" class="ll" textLength="38.2" lengthAdjust="spacingAndGlyphs">3.38 - 4.01</text>
<use href="#ins_gx" fill="#A83C15"/>
<use href="#ins_gd" fill="#EDA92F"/>
<use href="#ins_hi" fill="#EDA92F"/>
<use href="#deco2"/>
</g>
<g transform="translate(0,247)">
<text x="0.5" y="10.75" class="ttl">(e) Unemployment rate</text>
<use href="#land" class="glow2" filter="url(#gb)"/>
<use href="#outline" class="glow"/>
<use href="#HI" class="glow"/>
<use href="#XJ" fill="#F5FCC2"/>
<use href="#TB" fill="#F5FCC2"/>
<use href="#QH" fill="#F5FCC2"/>
<use href="#GS" fill="#F5FCC2"/>
<use href="#IM" fill="#EDA92F"/>
<use href="#HLJ" fill="#EDA92F"/>
<use href="#JL" fill="#EE7C2C"/>
<use href="#LN" fill="#EE7C2C"/>
<use href="#NX" fill="#F5FCC2"/>
<use href="#SN" fill="#EDA92F"/>
<use href="#SX" fill="#EE7C2C"/>
<use href="#HE" fill="#EE7C2C"/>
<use href="#SD" fill="#EED283"/>
<use href="#HA" fill="#EDA92F"/>
<use href="#JS" fill="#EDA92F"/>
<use href="#AH" fill="#EED283"/>
<use href="#ZJ" fill="#EDA92F"/>
<use href="#HB" fill="#EE7C2C"/>
<use href="#CQ" fill="#EED283"/>
<use href="#SC" fill="#EED283"/>
<use href="#HN" fill="#EED283"/>
<use href="#JX" fill="#EDA92F"/>
<use href="#FJ" fill="#EDA92F"/>
<use href="#GD" fill="#EDA92F"/>
<use href="#GX" fill="#F5FCC2"/>
<use href="#GZ" fill="#EDA92F"/>
<use href="#YN" fill="#EE7C2C"/>
<use href="#BJ" fill="#A83C15"/>
<use href="#TJ" fill="#EE7C2C"/>
<use href="#SH" fill="#EE7C2C"/>
<use href="#HI" fill="#EDA92F"/>
<use href="#ints" class="int"/><use href="#ints2" class="int"/>
<use href="#land" class="land"/>
<use href="#tw" class="tw"/>
<use href="#deco"/>
<text x="0.8" y="163.3" class="lt">1990-2021,CR/%</text>
<rect x="0.8" y="168.3" width="18.5" height="9" fill="#F5FCC2" class="sw"/>
<text x="22.7" y="176.0" class="ll" textLength="43.6" lengthAdjust="spacingAndGlyphs">-3.53 - -0.79</text>
<rect x="0.8" y="181.1" width="18.5" height="9" fill="#EED283" class="sw"/>
<text x="22.7" y="188.8" class="ll" textLength="40.9" lengthAdjust="spacingAndGlyphs">-0.78 - 0.00</text>
<rect x="0.8" y="193.9" width="18.5" height="9" fill="#EDA92F" class="sw"/>
<text x="22.7" y="201.6" class="ll" textLength="38.2" lengthAdjust="spacingAndGlyphs">0.01 - 1.20</text>
<rect x="0.8" y="206.7" width="18.5" height="9" fill="#EE7C2C" class="sw"/>
<text x="22.7" y="214.4" class="ll" textLength="38.2" lengthAdjust="spacingAndGlyphs">1.21 - 3.38</text>
<rect x="0.8" y="219.5" width="18.5" height="9" fill="#A83C15" class="sw"/>
<text x="22.7" y="227.2" class="ll" textLength="38.2" lengthAdjust="spacingAndGlyphs">3.39 - 6.97</text>
<use href="#ins_gx" fill="#F5FCC2"/>
<use href="#ins_gd" fill="#EDA92F"/>
<use href="#ins_hi" fill="#EDA92F"/>
<use href="#deco2"/>
</g>
<g transform="translate(302.5,247)">
<text x="0.5" y="10.75" class="ttl">(f) Living space per capita</text>
<use href="#land" class="glow2" filter="url(#gb)"/>
<use href="#outline" class="glow"/>
<use href="#HI" class="glow"/>
<use href="#XJ" fill="#EDA92F"/>
<use href="#TB" fill="#A83C15"/>
<use href="#QH" fill="#EE7C2C"/>
<use href="#GS" fill="#EE7C2C"/>
<use href="#IM" fill="#EE7C2C"/>
<use href="#HLJ" fill="#EDA92F"/>
<use href="#JL" fill="#EDA92F"/>
<use href="#LN" fill="#EDA92F"/>
<use href="#NX" fill="#EE7C2C"/>
<use href="#SN" fill="#EE7C2C"/>
<use href="#SX" fill="#EDA92F"/>
<use href="#HE" fill="#EED283"/>
<use href="#SD" fill="#EDA92F"/>
<use href="#HA" fill="#EE7C2C"/>
<use href="#JS" fill="#EED283"/>
<use href="#AH" fill="#EE7C2C"/>
<use href="#ZJ" fill="#F5FCC2"/>
<use href="#HB" fill="#EDA92F"/>
<use href="#CQ" fill="#EED283"/>
<use href="#SC" fill="#EED283"/>
<use href="#HN" fill="#EDA92F"/>
<use href="#JX" fill="#EE7C2C"/>
<use href="#FJ" fill="#EDA92F"/>
<use href="#GD" fill="#EED283"/>
<use href="#GX" fill="#EE7C2C"/>
<use href="#GZ" fill="#EE7C2C"/>
<use href="#YN" fill="#EE7C2C"/>
<use href="#BJ" fill="#EED283"/>
<use href="#TJ" fill="#EDA92F"/>
<use href="#SH" fill="#EED283"/>
<use href="#HI" fill="#EE7C2C"/>
<use href="#ints" class="int"/><use href="#ints2" class="int"/>
<use href="#land" class="land"/>
<use href="#tw" class="tw"/>
<use href="#deco"/>
<text x="0.8" y="163.3" class="lt">2000-2021,CR/%</text>
<rect x="0.8" y="168.3" width="18.5" height="9" fill="#F5FCC2" class="sw"/>
<text x="22.7" y="176.0" class="ll" textLength="38.2" lengthAdjust="spacingAndGlyphs">1.38 - 1.50</text>
<rect x="0.8" y="181.1" width="18.5" height="9" fill="#EED283" class="sw"/>
<text x="22.7" y="188.8" class="ll" textLength="38.2" lengthAdjust="spacingAndGlyphs">1.51 - 2.68</text>
<rect x="0.8" y="193.9" width="18.5" height="9" fill="#EDA92F" class="sw"/>
<text x="22.7" y="201.6" class="ll" textLength="38.2" lengthAdjust="spacingAndGlyphs">2.69 - 3.36</text>
<rect x="0.8" y="206.7" width="18.5" height="9" fill="#EE7C2C" class="sw"/>
<text x="22.7" y="214.4" class="ll" textLength="38.2" lengthAdjust="spacingAndGlyphs">3.37 - 4.47</text>
<rect x="0.8" y="219.5" width="18.5" height="9" fill="#A83C15" class="sw"/>
<text x="22.7" y="227.2" class="ll" textLength="38.2" lengthAdjust="spacingAndGlyphs">4.48 - 6.04</text>
<use href="#ins_gx" fill="#EE7C2C"/>
<use href="#ins_gd" fill="#EED283"/>
<use href="#ins_hi" fill="#EE7C2C"/>
<use href="#deco2"/>
</g>
<g transform="translate(605,247)">
<text x="0.5" y="10.75" class="ttl">(g) PM<tspan style="font-size:8.5px">2.5</tspan> concentration</text>
<use href="#land" class="glow2" filter="url(#gb)"/>
<use href="#outline" class="glow"/>
<use href="#HI" class="glow"/>
<use href="#XJ" fill="#336C3A"/>
<use href="#TB" fill="#DEF7EA"/>
<use href="#QH" fill="#558F5D"/>
<use href="#GS" fill="#7CAE87"/>
<use href="#IM" fill="#336C3A"/>
<use href="#HLJ" fill="#336C3A"/>
<use href="#JL" fill="#336C3A"/>
<use href="#LN" fill="#336C3A"/>
<use href="#NX" fill="#7CAE87"/>
<use href="#SN" fill="#7CAE87"/>
<use href="#SX" fill="#558F5D"/>
<use href="#HE" fill="#558F5D"/>
<use href="#SD" fill="#558F5D"/>
<use href="#HA" fill="#7CAE87"/>
<use href="#JS" fill="#558F5D"/>
<use href="#AH" fill="#558F5D"/>
<use href="#ZJ" fill="#7CAE87"/>
<use href="#HB" fill="#7CAE87"/>
<use href="#CQ" fill="#7CAE87"/>
<use href="#SC" fill="#558F5D"/>
<use href="#HN" fill="#558F5D"/>
<use href="#JX" fill="#558F5D"/>
<use href="#FJ" fill="#558F5D"/>
<use href="#GD" fill="#558F5D"/>
<use href="#GX" fill="#558F5D"/>
<use href="#GZ" fill="#558F5D"/>
<use href="#YN" fill="#336C3A"/>
<use href="#BJ" fill="#558F5D"/>
<use href="#TJ" fill="#558F5D"/>
<use href="#SH" fill="#7CAE87"/>
<use href="#HI" fill="#558F5D"/>
<use href="#ints" class="int"/><use href="#ints2" class="int"/>
<use href="#land" class="land"/>
<use href="#tw" class="tw"/>
<use href="#deco"/>
<text x="0.8" y="163.3" class="lt">2000-2021,CR/%</text>
<rect x="0.8" y="168.3" width="18.5" height="9" fill="#DEF7EA" class="sw"/>
<text x="22.7" y="176.0" class="ll" textLength="43.6" lengthAdjust="spacingAndGlyphs">-6.53 - -4.97</text>
<rect x="0.8" y="181.1" width="18.5" height="9" fill="#A9D5B5" class="sw"/>
<text x="22.7" y="188.8" class="ll" textLength="43.6" lengthAdjust="spacingAndGlyphs">-4.96 - -3.42</text>
<rect x="0.8" y="193.9" width="18.5" height="9" fill="#7CAE87" class="sw"/>
<text x="22.7" y="201.6" class="ll" textLength="43.6" lengthAdjust="spacingAndGlyphs">-3.41 - -1.86</text>
<rect x="0.8" y="206.7" width="18.5" height="9" fill="#558F5D" class="sw"/>
<text x="22.7" y="214.4" class="ll" textLength="40.9" lengthAdjust="spacingAndGlyphs">-1.85 - 0.00</text>
<rect x="0.8" y="219.5" width="18.5" height="9" fill="#336C3A" class="sw"/>
<text x="22.7" y="227.2" class="ll" textLength="38.2" lengthAdjust="spacingAndGlyphs">0.01 - 1.25</text>
<use href="#ins_gx" fill="#558F5D"/>
<use href="#ins_gd" fill="#558F5D"/>
<use href="#ins_hi" fill="#558F5D"/>
<use href="#deco2"/>
</g>
<g transform="translate(908,247)">
<text x="0.5" y="10.75" class="ttl">(h) Carbon emissions per capita</text>
<use href="#land" class="glow2" filter="url(#gb)"/>
<use href="#outline" class="glow"/>
<use href="#HI" class="glow"/>
<use href="#XJ" fill="#336C3A"/>
<use href="#TB" fill="#336C3A"/>
<use href="#QH" fill="#7CAE87"/>
<use href="#GS" fill="#7CAE87"/>
<use href="#IM" fill="#336C3A"/>
<use href="#HLJ" fill="#A9D5B5"/>
<use href="#JL" fill="#A9D5B5"/>
<use href="#LN" fill="#A9D5B5"/>
<use href="#NX" fill="#336C3A"/>
<use href="#SN" fill="#558F5D"/>
<use href="#SX" fill="#7CAE87"/>
<use href="#HE" fill="#7CAE87"/>
<use href="#SD" fill="#558F5D"/>
<use href="#HA" fill="#7CAE87"/>
<use href="#JS" fill="#7CAE87"/>
<use href="#AH" fill="#558F5D"/>
<use href="#ZJ" fill="#7CAE87"/>
<use href="#HB" fill="#7CAE87"/>
<use href="#CQ" fill="#7CAE87"/>
<use href="#SC" fill="#A9D5B5"/>
<use href="#HN" fill="#A9D5B5"/>
<use href="#JX" fill="#7CAE87"/>
<use href="#FJ" fill="#336C3A"/>
<use href="#GD" fill="#A9D5B5"/>
<use href="#GX" fill="#558F5D"/>
<use href="#GZ" fill="#558F5D"/>
<use href="#YN" fill="#7CAE87"/>
<use href="#BJ" fill="#DEF7EA"/>
<use href="#TJ" fill="#7CAE87"/>
<use href="#SH" fill="#7CAE87"/>
<use href="#HI" fill="#336C3A"/>
<use href="#ints" class="int"/><use href="#ints2" class="int"/>
<use href="#land" class="land"/>
<use href="#tw" class="tw"/>
<use href="#deco"/>
<text x="0.8" y="163.3" class="lt">1990-2021,CR/%</text>
<rect x="0.8" y="168.3" width="18.5" height="9" fill="#DEF7EA" class="sw"/>
<text x="22.7" y="176.0" class="ll" textLength="40.9" lengthAdjust="spacingAndGlyphs">-0.49 - 0.00</text>
<rect x="0.8" y="181.1" width="18.5" height="9" fill="#A9D5B5" class="sw"/>
<text x="22.7" y="188.8" class="ll" textLength="38.2" lengthAdjust="spacingAndGlyphs">0.01 - 3.96</text>
<rect x="0.8" y="193.9" width="18.5" height="9" fill="#7CAE87" class="sw"/>
<text x="22.7" y="201.6" class="ll" textLength="38.2" lengthAdjust="spacingAndGlyphs">3.97 - 5.07</text>
<rect x="0.8" y="206.7" width="18.5" height="9" fill="#558F5D" class="sw"/>
<text x="22.7" y="214.4" class="ll" textLength="38.2" lengthAdjust="spacingAndGlyphs">5.08 - 6.08</text>
<rect x="0.8" y="219.5" width="18.5" height="9" fill="#336C3A" class="sw"/>
<text x="22.7" y="227.2" class="ll" textLength="38.2" lengthAdjust="spacingAndGlyphs">6.09 - 8.30</text>
<use href="#ins_gx" fill="#558F5D"/>
<use href="#ins_gd" fill="#A9D5B5"/>
<use href="#ins_hi" fill="#336C3A"/>
<use href="#deco2"/>
</g>
<g transform="translate(0,493.7)">
<text x="0.5" y="10.75" class="ttl">(i) Green space per capita</text>
<use href="#land" class="glow2" filter="url(#gb)"/>
<use href="#outline" class="glow"/>
<use href="#HI" class="glow"/>
<use href="#XJ" fill="#7CAE87"/>
<use href="#TB" fill="#7CAE87"/>
<use href="#QH" fill="#7CAE87"/>
<use href="#GS" fill="#558F5D"/>
<use href="#IM" fill="#558F5D"/>
<use href="#HLJ" fill="#A9D5B5"/>
<use href="#JL" fill="#7CAE87"/>
<use href="#LN" fill="#A9D5B5"/>
<use href="#NX" fill="#558F5D"/>
<use href="#SN" fill="#7CAE87"/>
<use href="#SX" fill="#558F5D"/>
<use href="#HE" fill="#DEF7EA"/>
<use href="#SD" fill="#558F5D"/>
<use href="#HA" fill="#DEF7EA"/>
<use href="#JS" fill="#A9D5B5"/>
<use href="#AH" fill="#558F5D"/>
<use href="#ZJ" fill="#7CAE87"/>
<use href="#HB" fill="#A9D5B5"/>
<use href="#CQ" fill="#336C3A"/>
<use href="#SC" fill="#7CAE87"/>
<use href="#HN" fill="#A9D5B5"/>
<use href="#JX" fill="#A9D5B5"/>
<use href="#FJ" fill="#7CAE87"/>
<use href="#GD" fill="#7CAE87"/>
<use href="#GX" fill="#558F5D"/>
<use href="#GZ" fill="#A9D5B5"/>
<use href="#YN" fill="#DEF7EA"/>
<use href="#BJ" fill="#A9D5B5"/>
<use href="#TJ" fill="#DEF7EA"/>
<use href="#SH" fill="#A9D5B5"/>
<use href="#HI" fill="#A9D5B5"/>
<use href="#ints" class="int"/><use href="#ints2" class="int"/>
<use href="#land" class="land"/>
<use href="#tw" class="tw"/>
<use href="#deco"/>
<text x="0.8" y="163.3" class="lt">2000-2021,CR/%</text>
<rect x="0.8" y="168.3" width="18.5" height="9" fill="#DEF7EA" class="sw"/>
<text x="22.7" y="176.0" class="ll" textLength="38.2" lengthAdjust="spacingAndGlyphs">2.49 - 3.20</text>
<rect x="0.8" y="181.1" width="18.5" height="9" fill="#A9D5B5" class="sw"/>
<text x="22.7" y="188.8" class="ll" textLength="38.2" lengthAdjust="spacingAndGlyphs">3.21 - 5.37</text>
<rect x="0.8" y="193.9" width="18.5" height="9" fill="#7CAE87" class="sw"/>
<text x="22.7" y="201.6" class="ll" textLength="38.2" lengthAdjust="spacingAndGlyphs">5.38 - 7.19</text>
<rect x="0.8" y="206.7" width="18.5" height="9" fill="#558F5D" class="sw"/>
<text x="22.7" y="214.4" class="ll" textLength="38.2" lengthAdjust="spacingAndGlyphs">7.20 - 9.18</text>
<rect x="0.8" y="219.5" width="18.5" height="9" fill="#336C3A" class="sw"/>
<text x="22.7" y="227.2" class="ll" textLength="42.7" lengthAdjust="spacingAndGlyphs">9.19 - 13.66</text>
<use href="#ins_gx" fill="#558F5D"/>
<use href="#ins_gd" fill="#7CAE87"/>
<use href="#ins_hi" fill="#A9D5B5"/>
<use href="#deco2"/>
</g>
<g transform="translate(302.5,493.7)">
<text x="2.3" y="10.75" class="ttl">(j) Road density</text>
<g transform="matrix(1.0186,0,0,1.0168,-3.3,-3.2)">
<use href="#land" class="glow2" filter="url(#gb)"/>
<use href="#outline" class="glow"/>
<use href="#HI" class="glow"/>
<use href="#XJ" fill="#BA9DD0"/>
<use href="#TB" fill="#5C2B73"/>
<use href="#QH" fill="#7B5291"/>
<use href="#GS" fill="#7B5291"/>
<use href="#IM" fill="#9B73B1"/>
<use href="#HLJ" fill="#9B73B1"/>
<use href="#JL" fill="#9B73B1"/>
<use href="#LN" fill="#BA9DD0"/>
<use href="#NX" fill="#7B5291"/>
<use href="#SN" fill="#7B5291"/>
<use href="#SX" fill="#BA9DD0"/>
<use href="#HE" fill="#9B73B1"/>
<use href="#SD" fill="#7B5291"/>
<use href="#HA" fill="#7B5291"/>
<use href="#JS" fill="#BA9DD0"/>
<use href="#AH" fill="#5C2B73"/>
<use href="#ZJ" fill="#BA9DD0"/>
<use href="#HB" fill="#5C2B73"/>
<use href="#CQ" fill="#5C2B73"/>
<use href="#SC" fill="#7B5291"/>
<use href="#HN" fill="#7B5291"/>
<use href="#JX" fill="#9B73B1"/>
<use href="#FJ" fill="#E1D4F3"/>
<use href="#GD" fill="#E1D4F3"/>
<use href="#GX" fill="#9B73B1"/>
<use href="#GZ" fill="#5C2B73"/>
<use href="#YN" fill="#E1D4F3"/>
<use href="#BJ" fill="#E1D4F3"/>
<use href="#TJ" fill="#BA9DD0"/>
<use href="#SH" fill="#BA9DD0"/>
<use href="#HI" fill="#BA9DD0"/>
<use href="#ints" class="int"/><use href="#ints2" class="int"/>
<use href="#land" class="land"/>
<use href="#tw" class="tw"/>
<use href="#deco"/>
<text x="0.8" y="163.3" class="lt">2000-2021,CR/%</text>
<rect x="0.8" y="168.3" width="18.5" height="9" fill="#E1D4F3" class="sw"/>
<text x="22.7" y="176.0" class="ll" textLength="38.2" lengthAdjust="spacingAndGlyphs">2.39 - 3.81</text>
<rect x="0.8" y="181.1" width="18.5" height="9" fill="#BA9DD0" class="sw"/>
<text x="22.7" y="188.8" class="ll" textLength="38.2" lengthAdjust="spacingAndGlyphs">3.82 - 5.29</text>
<rect x="0.8" y="193.9" width="18.5" height="9" fill="#9B73B1" class="sw"/>
<text x="22.7" y="201.6" class="ll" textLength="38.2" lengthAdjust="spacingAndGlyphs">5.30 - 6.42</text>
<rect x="0.8" y="206.7" width="18.5" height="9" fill="#7B5291" class="sw"/>
<text x="22.7" y="214.4" class="ll" textLength="38.2" lengthAdjust="spacingAndGlyphs">6.43 - 7.55</text>
<rect x="0.8" y="219.5" width="18.5" height="9" fill="#5C2B73" class="sw"/>
<text x="22.7" y="227.2" class="ll" textLength="38.2" lengthAdjust="spacingAndGlyphs">7.56 - 8.96</text>
<use href="#ins_gx" fill="#9B73B1"/>
<use href="#ins_gd" fill="#E1D4F3"/>
<use href="#ins_hi" fill="#BA9DD0"/>
<use href="#deco2"/>
</g>
</g>
<g transform="translate(605,493.7)">
<text x="0.5" y="10.75" class="ttl">(k) Internet penetration rate</text>
<use href="#land" class="glow2" filter="url(#gb)"/>
<use href="#outline" class="glow"/>
<use href="#HI" class="glow"/>
<use href="#XJ" fill="#BA9DD0"/>
<use href="#TB" fill="#9B73B1"/>
<use href="#QH" fill="#9B73B1"/>
<use href="#GS" fill="#7B5291"/>
<use href="#IM" fill="#7B5291"/>
<use href="#HLJ" fill="#9B73B1"/>
<use href="#JL" fill="#BA9DD0"/>
<use href="#LN" fill="#BA9DD0"/>
<use href="#NX" fill="#BA9DD0"/>
<use href="#SN" fill="#7B5291"/>
<use href="#SX" fill="#7B5291"/>
<use href="#HE" fill="#7B5291"/>
<use href="#SD" fill="#9B73B1"/>
<use href="#HA" fill="#5C2B73"/>
<use href="#JS" fill="#BA9DD0"/>
<use href="#AH" fill="#7B5291"/>
<use href="#ZJ" fill="#BA9DD0"/>
<use href="#HB" fill="#7B5291"/>
<use href="#CQ" fill="#9B73B1"/>
<use href="#SC" fill="#9B73B1"/>
<use href="#HN" fill="#9B73B1"/>
<use href="#JX" fill="#7B5291"/>
<use href="#FJ" fill="#BA9DD0"/>
<use href="#GD" fill="#BA9DD0"/>
<use href="#GX" fill="#7B5291"/>
<use href="#GZ" fill="#5C2B73"/>
<use href="#YN" fill="#7B5291"/>
<use href="#BJ" fill="#E1D4F3"/>
<use href="#TJ" fill="#BA9DD0"/>
<use href="#SH" fill="#BA9DD0"/>
<use href="#HI" fill="#7B5291"/>
<use href="#ints" class="int"/><use href="#ints2" class="int"/>
<use href="#land" class="land"/>
<use href="#tw" class="tw"/>
<use href="#deco"/>
<text x="0.8" y="163.3" class="lt">2000-2021,CR/%</text>
<rect x="0.8" y="168.3" width="18.5" height="9" fill="#E1D4F3" class="sw"/>
<text x="22.7" y="176.0" class="ll" textLength="42.7" lengthAdjust="spacingAndGlyphs">6.96 - 12.77</text>
<rect x="0.8" y="181.1" width="18.5" height="9" fill="#BA9DD0" class="sw"/>
<text x="22.7" y="188.8" class="ll" textLength="47.2" lengthAdjust="spacingAndGlyphs">12.78 - 18.76</text>
<rect x="0.8" y="193.9" width="18.5" height="9" fill="#9B73B1" class="sw"/>
<text x="22.7" y="201.6" class="ll" textLength="47.2" lengthAdjust="spacingAndGlyphs">18.77 - 21.00</text>
<rect x="0.8" y="206.7" width="18.5" height="9" fill="#7B5291" class="sw"/>
<text x="22.7" y="214.4" class="ll" textLength="47.2" lengthAdjust="spacingAndGlyphs">21.01 - 23.66</text>
<rect x="0.8" y="219.5" width="18.5" height="9" fill="#5C2B73" class="sw"/>
<text x="22.7" y="227.2" class="ll" textLength="47.2" lengthAdjust="spacingAndGlyphs">23.67 - 27.04</text>
<use href="#ins_gx" fill="#7B5291"/>
<use href="#ins_gd" fill="#BA9DD0"/>
<use href="#ins_hi" fill="#7B5291"/>
<use href="#deco2"/>
</g>
<g transform="translate(908,493.7)">
<text x="0.5" y="10.75" class="ttl">(l) Granted patents per capita</text>
<use href="#land" class="glow2" filter="url(#gb)"/>
<use href="#outline" class="glow"/>
<use href="#HI" class="glow"/>
<use href="#XJ" fill="#80B9E6"/>
<use href="#TB" fill="#3447C9"/>
<use href="#QH" fill="#80B9E6"/>
<use href="#GS" fill="#4B8EE6"/>
<use href="#IM" fill="#4B8EE6"/>
<use href="#HLJ" fill="#80B9E6"/>
<use href="#JL" fill="#C0F5F0"/>
<use href="#LN" fill="#C0F5F0"/>
<use href="#NX" fill="#1A0CB0"/>
<use href="#SN" fill="#4B8EE6"/>
<use href="#SX" fill="#80B9E6"/>
<use href="#HE" fill="#4B8EE6"/>
<use href="#SD" fill="#3447C9"/>
<use href="#HA" fill="#3447C9"/>
<use href="#JS" fill="#1A0CB0"/>
<use href="#AH" fill="#1A0CB0"/>
<use href="#ZJ" fill="#3447C9"/>
<use href="#HB" fill="#3447C9"/>
<use href="#CQ" fill="#1A0CB0"/>
<use href="#SC" fill="#80B9E6"/>
<use href="#HN" fill="#80B9E6"/>
<use href="#JX" fill="#3447C9"/>
<use href="#FJ" fill="#1A0CB0"/>
<use href="#GD" fill="#1A0CB0"/>
<use href="#GX" fill="#4B8EE6"/>
<use href="#GZ" fill="#3447C9"/>
<use href="#YN" fill="#80B9E6"/>
<use href="#BJ" fill="#C0F5F0"/>
<use href="#TJ" fill="#4B8EE6"/>
<use href="#SH" fill="#3447C9"/>
<use href="#HI" fill="#1A0CB0"/>
<use href="#ints" class="int"/><use href="#ints2" class="int"/>
<use href="#land" class="land"/>
<use href="#tw" class="tw"/>
<use href="#deco"/>
<text x="0.8" y="163.3" class="lt">1990-2021,CR/%</text>
<rect x="0.8" y="168.3" width="18.5" height="9" fill="#C0F5F0" class="sw"/>
<text x="22.7" y="176.0" class="ll" textLength="47.2" lengthAdjust="spacingAndGlyphs">12.78 - 13.41</text>
<rect x="0.8" y="181.1" width="18.5" height="9" fill="#80B9E6" class="sw"/>
<text x="22.7" y="188.8" class="ll" textLength="47.2" lengthAdjust="spacingAndGlyphs">13.42 - 16.07</text>
<rect x="0.8" y="193.9" width="18.5" height="9" fill="#4B8EE6" class="sw"/>
<text x="22.7" y="201.6" class="ll" textLength="47.2" lengthAdjust="spacingAndGlyphs">16.08 - 17.34</text>
<rect x="0.8" y="206.7" width="18.5" height="9" fill="#3447C9" class="sw"/>
<text x="22.7" y="214.4" class="ll" textLength="47.2" lengthAdjust="spacingAndGlyphs">17.35 - 20.26</text>
<rect x="0.8" y="219.5" width="18.5" height="9" fill="#1A0CB0" class="sw"/>
<text x="22.7" y="227.2" class="ll" textLength="47.2" lengthAdjust="spacingAndGlyphs">20.27 - 22.13</text>
<use href="#ins_gx" fill="#4B8EE6"/>
<use href="#ins_gd" fill="#1A0CB0"/>
<use href="#ins_hi" fill="#1A0CB0"/>
<use href="#deco2"/>
</g>
<g transform="translate(0,740.5)">
<text x="0.5" y="10.75" class="ttl">(m) R&amp;D expenditure per capita</text>
<use href="#land" class="glow2" filter="url(#gb)"/>
<use href="#outline" class="glow"/>
<use href="#HI" class="glow"/>
<use href="#XJ" fill="#C0F5F0"/>
<use href="#TB" fill="#C0F5F0"/>
<use href="#QH" fill="#C0F5F0"/>
<use href="#GS" fill="#C0F5F0"/>
<use href="#IM" fill="#4B8EE6"/>
<use href="#HLJ" fill="#80B9E6"/>
<use href="#JL" fill="#C0F5F0"/>
<use href="#LN" fill="#80B9E6"/>
<use href="#NX" fill="#C0F5F0"/>
<use href="#SN" fill="#4B8EE6"/>
<use href="#SX" fill="#4B8EE6"/>
<use href="#HE" fill="#3447C9"/>
<use href="#SD" fill="#1A0CB0"/>
<use href="#HA" fill="#3447C9"/>
<use href="#JS" fill="#1A0CB0"/>
<use href="#AH" fill="#1A0CB0"/>
<use href="#ZJ" fill="#1A0CB0"/>
<use href="#HB" fill="#3447C9"/>
<use href="#CQ" fill="#1A0CB0"/>
<use href="#SC" fill="#80B9E6"/>
<use href="#HN" fill="#3447C9"/>
<use href="#JX" fill="#1A0CB0"/>
<use href="#FJ" fill="#1A0CB0"/>
<use href="#GD" fill="#1A0CB0"/>
<use href="#GX" fill="#4B8EE6"/>
<use href="#GZ" fill="#3447C9"/>
<use href="#YN" fill="#4B8EE6"/>
<use href="#BJ" fill="#C0F5F0"/>
<use href="#TJ" fill="#4B8EE6"/>
<use href="#SH" fill="#3447C9"/>
<use href="#HI" fill="#4B8EE6"/>
<use href="#ints" class="int"/><use href="#ints2" class="int"/>
<use href="#land" class="land"/>
<use href="#tw" class="tw"/>
<use href="#deco"/>
<text x="0.8" y="163.3" class="lt">1990-2021,CR/%</text>
<rect x="0.8" y="168.3" width="18.5" height="9" fill="#C0F5F0" class="sw"/>
<text x="22.7" y="176.0" class="ll" textLength="46.6" lengthAdjust="spacingAndGlyphs">11.20 - 12.98</text>
<rect x="0.8" y="181.1" width="18.5" height="9" fill="#80B9E6" class="sw"/>
<text x="22.7" y="188.8" class="ll" textLength="47.2" lengthAdjust="spacingAndGlyphs">12.99 - 14.33</text>
<rect x="0.8" y="193.9" width="18.5" height="9" fill="#4B8EE6" class="sw"/>
<text x="22.7" y="201.6" class="ll" textLength="47.2" lengthAdjust="spacingAndGlyphs">14.34 - 15.46</text>
<rect x="0.8" y="206.7" width="18.5" height="9" fill="#3447C9" class="sw"/>
<text x="22.7" y="214.4" class="ll" textLength="47.2" lengthAdjust="spacingAndGlyphs">15.47 - 18.58</text>
<rect x="0.8" y="219.5" width="18.5" height="9" fill="#1A0CB0" class="sw"/>
<text x="22.7" y="227.2" class="ll" textLength="47.2" lengthAdjust="spacingAndGlyphs">18.59 - 23.41</text>
<use href="#ins_gx" fill="#4B8EE6"/>
<use href="#ins_gd" fill="#1A0CB0"/>
<use href="#ins_hi" fill="#4B8EE6"/>
<use href="#deco2"/>
</g>
<g id="boxplot">
<rect x="371.8" y="736.3" width="522.6" height="218.7" fill="none" stroke="#555" stroke-width="1.2"/>
<path d="M371.8,736V955.2" stroke="#333" stroke-width="1"/>
<path d="M372.5,888.8H893" stroke="#efefef" stroke-width="0.8" stroke-dasharray="3,1"/>
<path d="M372.5,855.5H893" stroke="#efefef" stroke-width="0.8" stroke-dasharray="3,1"/>
<path d="M372.5,822.2H893" stroke="#efefef" stroke-width="0.8" stroke-dasharray="3,1"/>
<path d="M372.5,789.0H893" stroke="#efefef" stroke-width="0.8" stroke-dasharray="3,1"/>
<path d="M372.5,755.8H893" stroke="#efefef" stroke-width="0.8" stroke-dasharray="3,1"/>
<path d="M372.5,922.0H893" stroke="#8a8a8a" stroke-width="1.3" stroke-dasharray="6,4"/>
<text x="367.6" y="760.0" class="bt" text-anchor="end">25</text>
<text x="367.6" y="793.3" class="bt" text-anchor="end">20</text>
<text x="367.6" y="826.5" class="bt" text-anchor="end">15</text>
<text x="367.6" y="859.8" class="bt" text-anchor="end">10</text>
<text x="367.6" y="893.0" class="bt" text-anchor="end">5</text>
<text x="367.6" y="926.3" class="bt" text-anchor="end">0</text>
<text x="367.6" y="959.5" class="bt" text-anchor="end">-5</text>
<text x="381.3" y="755.5" class="bti">(n) Boxplots</text>
<text transform="translate(346.2,855.5) rotate(-90)" class="byl" text-anchor="middle">Annual change rate/%</text>
<path d="M391.6,841.5V849.5M391.6,858.5V866.1M386.9,841.5H396.3M386.9,866.1H396.3" stroke="#9E1C22" stroke-width="1.3" fill="none"/>
<rect x="383.4" y="849.5" width="16.4" height="9.0" fill="#F46EC4" stroke="#A01830" stroke-width="0.8"/>
<path d="M383.4,853.8H399.8" stroke="#8B0A14" stroke-width="1.6"/>
<text x="391.6" y="967" class="bx" text-anchor="middle">GDP</text>
<path d="M431.8,840.2V844.9M431.8,850.5V857.2M427.1,840.2H436.5M427.1,857.2H436.5" stroke="#9E1C22" stroke-width="1.3" fill="none"/>
<rect x="423.6" y="844.9" width="16.4" height="5.7" fill="#F46EC4" stroke="#A01830" stroke-width="0.8"/>
<path d="M423.6,847.5H440.0" stroke="#8B0A14" stroke-width="1.6"/>
<circle cx="431.8" cy="860.8" r="1.7" fill="#9B1020"/>
<text x="431.8" y="967" class="bx" text-anchor="middle">DI</text>
<path d="M472.0,887.4V894.4M472.0,902.0V906.7M467.3,887.4H476.7M467.3,906.7H476.7" stroke="#9E1C22" stroke-width="1.3" fill="none"/>
<rect x="463.8" y="894.4" width="16.4" height="7.6" fill="#EDA52F" stroke="#A0522D" stroke-width="0.8"/>
<path d="M463.8,897.1H480.2" stroke="#5A2A0A" stroke-width="1.6"/>
<circle cx="472.0" cy="875.5" r="1.7" fill="#9B1020"/>
<circle cx="472.0" cy="880.8" r="1.7" fill="#9B1020"/>
<text x="472.0" y="967" class="bx" text-anchor="middle">HG</text>
<path d="M512.2,895.4V900.1M512.2,909.4V924.3M507.5,895.4H516.9M507.5,924.3H516.9" stroke="#9E1C22" stroke-width="1.3" fill="none"/>
<rect x="504.0" y="900.1" width="16.4" height="9.3" fill="#EDA52F" stroke="#A0522D" stroke-width="0.8"/>
<path d="M504.0,905.0H520.4" stroke="#5A2A0A" stroke-width="1.6"/>
<text x="512.2" y="967" class="bx" text-anchor="middle">DP</text>
<path d="M552.4,899.4V913.4M552.4,925.3V932.0M547.7,899.4H557.1M547.7,932.0H557.1" stroke="#9E1C22" stroke-width="1.3" fill="none"/>
<rect x="544.2" y="913.4" width="16.4" height="12.0" fill="#EDA52F" stroke="#A0522D" stroke-width="0.8"/>
<path d="M544.2,920.0H560.6" stroke="#5A2A0A" stroke-width="1.6"/>
<circle cx="552.4" cy="875.8" r="1.7" fill="#9B1020"/>
<circle cx="552.4" cy="945.6" r="1.7" fill="#9B1020"/>
<text x="552.4" y="967" class="bx" text-anchor="middle">UR</text>
<path d="M592.6,892.7V896.7M592.6,904.7V913.0M587.9,892.7H597.3M587.9,913.0H597.3" stroke="#9E1C22" stroke-width="1.3" fill="none"/>
<rect x="584.4" y="896.7" width="16.4" height="8.0" fill="#EDA52F" stroke="#A0522D" stroke-width="0.8"/>
<path d="M584.4,900.7H600.8" stroke="#5A2A0A" stroke-width="1.6"/>
<circle cx="592.6" cy="882.1" r="1.7" fill="#9B1020"/>
<text x="592.6" y="967" class="bx" text-anchor="middle">LS</text>
<path d="M632.8,913.8V923.7M632.8,935.5V942.0M628.1,913.8H637.5M628.1,942.0H637.5" stroke="#9E1C22" stroke-width="1.3" fill="none"/>
<rect x="624.6" y="923.7" width="16.4" height="11.8" fill="#7DB480" stroke="#3A8A3A" stroke-width="0.8"/>
<path d="M624.6,927.5H641.0" stroke="#276B2A" stroke-width="1.6"/>
<text x="632.8" y="967" class="bx" text-anchor="middle">PM2.5</text>
<path d="M673.0,866.8V882.6M673.0,896.3V902.0M668.3,866.8H677.7M668.3,902.0H677.7" stroke="#9E1C22" stroke-width="1.3" fill="none"/>
<rect x="664.8" y="882.6" width="16.4" height="13.8" fill="#7DB480" stroke="#3A8A3A" stroke-width="0.8"/>
<path d="M664.8,889.4H681.2" stroke="#276B2A" stroke-width="1.6"/>
<circle cx="673.0" cy="917.5" r="1.7" fill="#9B1020"/>
<circle cx="673.0" cy="925.3" r="1.7" fill="#9B1020"/>
<text x="673.0" y="967" class="bx" text-anchor="middle">CE</text>
<path d="M713.2,861.5V872.8M713.2,891.9V905.8M708.5,861.5H717.9M708.5,905.8H717.9" stroke="#9E1C22" stroke-width="1.3" fill="none"/>
<rect x="705.0" y="872.8" width="16.4" height="19.1" fill="#7DB480" stroke="#3A8A3A" stroke-width="0.8"/>
<path d="M705.0,884.4H721.4" stroke="#276B2A" stroke-width="1.6"/>
<circle cx="713.2" cy="831.6" r="1.7" fill="#9B1020"/>
<text x="713.2" y="967" class="bx" text-anchor="middle">GS</text>
<path d="M753.4,827.6V855.5M753.4,873.5V886.8M748.7,827.6H758.1M748.7,886.8H758.1" stroke="#9E1C22" stroke-width="1.3" fill="none"/>
<rect x="745.2" y="855.5" width="16.4" height="18.0" fill="#9A72B0" stroke="#111111" stroke-width="0.8"/>
<path d="M745.2,860.2H761.6" stroke="#111111" stroke-width="1.6"/>
<circle cx="753.4" cy="904.7" r="1.7" fill="#9B1020"/>
<text x="753.4" y="967" class="bx bxs" text-anchor="middle">ROD</text>
<path d="M793.6,742.8V776.4M793.6,800.6V820.9M788.9,742.8H798.3M788.9,820.9H798.3" stroke="#9E1C22" stroke-width="1.3" fill="none"/>
<rect x="785.4" y="776.4" width="16.4" height="24.3" fill="#9A72B0" stroke="#3A1A7A" stroke-width="0.8"/>
<path d="M785.4,786.7H801.8" stroke="#2A0A6A" stroke-width="1.6"/>
<circle cx="793.6" cy="837.5" r="1.7" fill="#9B1020"/>
<circle cx="793.6" cy="859.8" r="1.7" fill="#9B1020"/>
<circle cx="793.6" cy="876.1" r="1.7" fill="#9B1020"/>
<text x="793.6" y="967" class="bx" text-anchor="middle">IPR</text>
<path d="M833.8,775.0V787.7M833.8,818.9V837.5M829.1,775.0H838.5M829.1,837.5H838.5" stroke="#9E1C22" stroke-width="1.3" fill="none"/>
<rect x="825.6" y="787.7" width="16.4" height="31.3" fill="#4A8DE6" stroke="#1A1AA0" stroke-width="0.8"/>
<path d="M825.6,807.6H842.0" stroke="#10108A" stroke-width="1.6"/>
<text x="833.8" y="967" class="bx" text-anchor="middle">GP</text>
<path d="M874.0,766.7V791.7M874.0,833.6V847.5M869.3,766.7H878.7M869.3,847.5H878.7" stroke="#9E1C22" stroke-width="1.3" fill="none"/>
<rect x="865.8" y="791.7" width="16.4" height="41.9" fill="#4A8DE6" stroke="#1A1AA0" stroke-width="0.8"/>
<path d="M865.8,820.3H882.2" stroke="#10108A" stroke-width="1.6"/>
<text x="874.0" y="967" class="bx" text-anchor="middle">R&amp;D</text>
</g>
<g id="ramps">
<rect x="906.90" y="783.2" width="24.9" height="11.5" fill="#F5CCFA"/>
<rect x="931.52" y="783.2" width="24.9" height="11.5" fill="#F878F6"/>
<rect x="956.14" y="783.2" width="24.9" height="11.5" fill="#FF33F5"/>
<rect x="980.76" y="783.2" width="24.9" height="11.5" fill="#A5229A"/>
<rect x="1005.38" y="783.2" width="24.9" height="11.5" fill="#6E0F52"/>
<text x="1036.5" y="794.7" class="rl">Enconomic indicators</text>
<rect x="906.90" y="813.3" width="24.9" height="11.5" fill="#F5FCC2"/>
<rect x="931.52" y="813.3" width="24.9" height="11.5" fill="#EED283"/>
<rect x="956.14" y="813.3" width="24.9" height="11.5" fill="#EDA92F"/>
<rect x="980.76" y="813.3" width="24.9" height="11.5" fill="#EE7C2C"/>
<rect x="1005.38" y="813.3" width="24.9" height="11.5" fill="#A83C15"/>
<text x="1036.5" y="824.5" class="rl">Social indicators</text>
<rect x="906.90" y="843.4" width="24.9" height="11.5" fill="#DEF7EA"/>
<rect x="931.52" y="843.4" width="24.9" height="11.5" fill="#A9D5B5"/>
<rect x="956.14" y="843.4" width="24.9" height="11.5" fill="#7CAE87"/>
<rect x="980.76" y="843.4" width="24.9" height="11.5" fill="#558F5D"/>
<rect x="1005.38" y="843.4" width="24.9" height="11.5" fill="#336C3A"/>
<text x="1036.5" y="854.5" class="rl">Enviornmental indicators</text>
<rect x="906.90" y="873.4" width="24.9" height="11.5" fill="#E1D4F3"/>
<rect x="931.52" y="873.4" width="24.9" height="11.5" fill="#BA9DD0"/>
<rect x="956.14" y="873.4" width="24.9" height="11.5" fill="#9B73B1"/>
<rect x="980.76" y="873.4" width="24.9" height="11.5" fill="#7B5291"/>
<rect x="1005.38" y="873.4" width="24.9" height="11.5" fill="#5C2B73"/>
<text x="1036.5" y="884.3" class="rl">Infrastructure indicators</text>
<rect x="906.90" y="903.3" width="24.9" height="11.5" fill="#C0F5F0"/>
<rect x="931.52" y="903.3" width="24.9" height="11.5" fill="#80B9E6"/>
<rect x="956.14" y="903.3" width="24.9" height="11.5" fill="#4B8EE6"/>
<rect x="980.76" y="903.3" width="24.9" height="11.5" fill="#3447C9"/>
<rect x="1005.38" y="903.3" width="24.9" height="11.5" fill="#12095F"/>
<text x="1036.5" y="914.4" class="rl">Inovation indicators</text>
</g>
</svg></body></html>
